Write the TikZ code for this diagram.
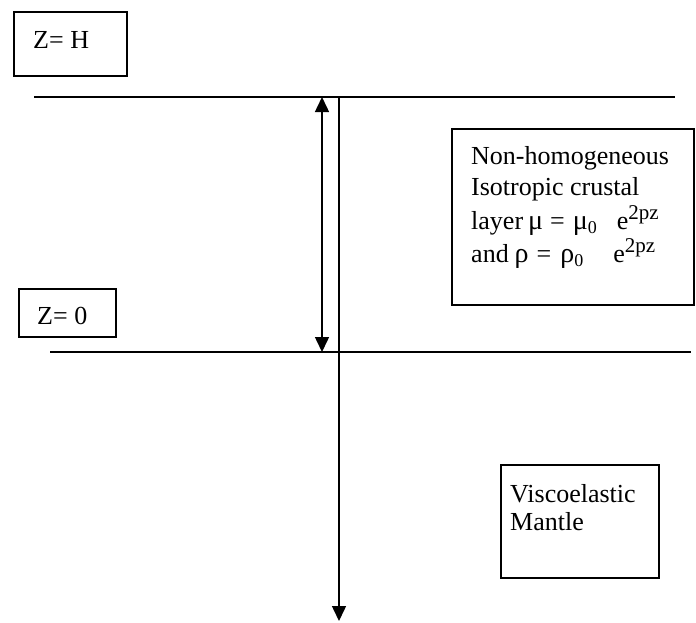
\documentclass[tikz,border=0pt]{standalone}
\usepackage{fontspec}
\setmainfont{Liberation Serif}
\usetikzlibrary{arrows.meta}
\newcommand{\gk}[1]{{\fontsize{28}{28}\selectfont #1}}
\newcommand{\sps}[1]{\raisebox{0.36em}{\fontsize{21}{21}\selectfont #1}}
\newcommand{\sbs}[1]{\raisebox{-0.18em}{\fontsize{18}{18}\selectfont #1}}
\begin{document}
\begin{tikzpicture}[x=1pt,y=-1pt,
  box/.style={draw,line width=1.5pt,inner sep=0pt,anchor=north west},
  ln/.style={line width=1.5pt},
  tipd/.style={-{Triangle[length=15pt,width=14pt]}},
  tipb/.style={{Triangle[length=15pt,width=14pt]}-{Triangle[length=15pt,width=14pt]}},
  lbl/.style={anchor=base west,inner sep=0pt,font=\fontsize{26}{30}\selectfont}]
\useasboundingbox (0,0) rectangle (696,622);
% boxes
\node[box,minimum width=113pt,minimum height=64pt] (zh) at (13,11) {};
\node[box,minimum width=97pt,minimum height=48pt] (z0) at (18,288) {};
\node[box,minimum width=242pt,minimum height=176pt] (crust) at (451,128) {};
\node[box,minimum width=158pt,minimum height=113pt] (mantle) at (500,464) {};
% labels
\node[lbl] (zhl) at (33,48) {Z= H};
\node[lbl] (z0l) at (37,324) {Z= 0};
\node[lbl] (c1) at (471,164) {Non-homogeneous};
\node[lbl] (c2) at (471,195) {Isotropic crustal};
\node[lbl] (c3) at (471,229) {layer\hspace{5pt}\gk{μ}\hspace{7pt}=\hspace{8pt}\gk{μ}\sbs{0}\hspace{20pt}e\sps{2pz}};
\node[lbl] (c4) at (471,262) {and\hspace{6pt}\gk{ρ}\hspace{8pt}=\hspace{9pt}\gk{ρ}\sbs{0}\hspace{30pt}e\sps{2pz}};
\node[lbl] (m1) at (510,502) {Viscoelastic};
\node[lbl] (m2) at (510,530) {Mantle};
% lines
\coordinate (t1) at (34,97);
\coordinate (t2) at (675,97);
\coordinate (b1) at (50,352);
\coordinate (b2) at (691,352);
\coordinate (vtop) at (339,97);
\coordinate (vbot) at (339,621);
\coordinate (dtop) at (322,97);
\coordinate (dbot) at (322,352);
\draw[ln] (t1) -- (t2);
\draw[ln] (b1) -- (b2);
\draw[ln,tipd] (vtop) -- (vbot);
\draw[ln,tipb] (dtop) -- (dbot);
\end{tikzpicture}
\end{document}
